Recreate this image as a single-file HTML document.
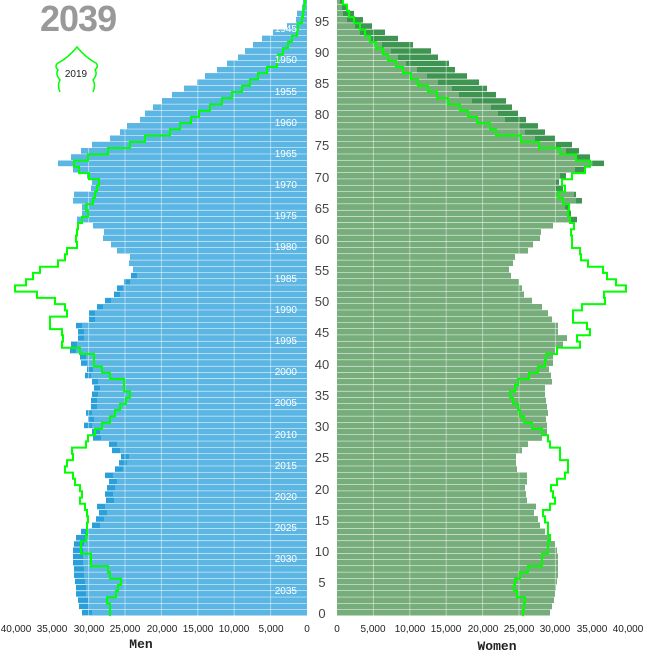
<!DOCTYPE html>
<html><head><meta charset="utf-8"><style>
html,body{margin:0;padding:0;background:#fff;}
svg{display:block;font-family:"Liberation Sans",sans-serif;}
</style></head><body>
<svg id="s" width="645" height="653" viewBox="0 0 645 653" xmlns="http://www.w3.org/2000/svg">
<g id="bars"></g>
<g id="grid"></g>
<g id="lines"></g>
<g fill="#fff" font-size="10" text-anchor="end">
<text x="297" y="32">1945</text><text x="297" y="63">1950</text><text x="297" y="95">1955</text><text x="297" y="126">1960</text><text x="297" y="157">1965</text><text x="297" y="188">1970</text><text x="297" y="219">1975</text><text x="297" y="250">1980</text><text x="297" y="282">1985</text><text x="297" y="313">1990</text><text x="297" y="344">1995</text><text x="297" y="375">2000</text><text x="297" y="406">2005</text><text x="297" y="438">2010</text><text x="297" y="469">2015</text><text x="297" y="500">2020</text><text x="297" y="531">2025</text><text x="297" y="562">2030</text><text x="297" y="594">2035</text>
</g>
<g fill="#444" font-size="13" text-anchor="middle">
<text x="322" y="618">0</text><text x="322" y="587">5</text><text x="322" y="556">10</text><text x="322" y="525">15</text><text x="322" y="494">20</text><text x="322" y="462">25</text><text x="322" y="431">30</text><text x="322" y="400">35</text><text x="322" y="369">40</text><text x="322" y="337">45</text><text x="322" y="306">50</text><text x="322" y="275">55</text><text x="322" y="244">60</text><text x="322" y="213">65</text><text x="322" y="182">70</text><text x="322" y="150">75</text><text x="322" y="119">80</text><text x="322" y="88">85</text><text x="322" y="57">90</text><text x="322" y="26">95</text>
</g>
<g fill="#222" font-size="10" text-anchor="middle">
<text x="16" y="632">40,000</text><text x="52" y="632">35,000</text><text x="89" y="632">30,000</text><text x="125" y="632">25,000</text><text x="162" y="632">20,000</text><text x="198" y="632">15,000</text><text x="234" y="632">10,000</text><text x="271" y="632">5,000</text><text x="307" y="632">0</text>
<text x="337" y="632">0</text><text x="373" y="632">5,000</text><text x="410" y="632">10,000</text><text x="446" y="632">15,000</text><text x="483" y="632">20,000</text><text x="519" y="632">25,000</text><text x="555" y="632">30,000</text><text x="592" y="632">35,000</text><text x="628" y="632">40,000</text>
</g>
<text x="141" y="648" font-family="Liberation Mono,monospace" font-weight="bold" font-size="13" text-anchor="middle" fill="#222">Men</text>
<text x="497" y="650" font-family="Liberation Mono,monospace" font-weight="bold" font-size="13" text-anchor="middle" fill="#222">Women</text>
<text x="40" y="31" font-size="36" font-weight="bold" fill="#999" letter-spacing="-1">2039</text>
<path d="M60,92 Q57,85 60,80 Q55,74 58,70 Q54,66 58,63 Q68,58 77,47 Q86,58 96,63 Q99,66 95,70 Q98,74 93,80 Q96,85 93,92" fill="none" stroke="#00ff00" stroke-width="1.5"/>
<text x="76" y="77" font-size="10" text-anchor="middle" fill="#222">2019</text>
</svg>
<script>
var md=[82,79,78,76,76,75,74,74,73,73,73,74,76,81,92,96,99,97,106,105,107,109,105,115,119,121,112,109,93,92,84,88,86,91,91,92,94,92,85,87,81,80,70,71,78,78,76,89,89,97,105,114,117,124,131,133,129,130,117,111,103,104,93,77,82,82,73,74,91,92,87,73,58,71,81,92,110,120,127,140,145,153,162,172,184,197,205,217,227,238,245,253,262,273,287,296,297,302,303,305];
var mg=[110,110,107,116,118,121,110,108,91,91,81,81,86,87,87,88,87,85,80,82,80,75,73,65,67,73,72,86,88,95,102,110,115,120,126,130,124,124,110,102,94,94,80,62,63,62,50,50,67,65,55,37,15,26,33,40,58,65,67,77,76,77,78,82,88,86,93,95,97,99,89,79,74,88,108,130,145,170,180,191,199,210,222,232,242,250,258,267,277,278,283,288,292,297,298,302,303,304,305,306];
var wl=[550,552,554,555,556,557,558,558,558,558,557,555,550,545,540,538,534,536,527,526,525,527,527,517,516,516,522,528,542,547,547,546,548,547,546,545,545,552,551,549,553,553,555,563,567,558,558,552,548,542,532,524,522,519,511,509,513,515,528,533,540,541,
553,570,567,565,576,574,556,555,560,575,590,577,566,556,535,525,519,505,498,491,472,459,452,438,427,417,406,398,391,382,370,360,355,347,343,342,340,338];
var wd=wl.slice();
var wdo={63:577,64:571,65:569,66:582,67:576,68:563,69:559,70:566,71:585,72:604,73:590,74:579,75:572,76:555,77:545,78:538,79:526,80:518,81:512,82:506,83:496,84:487,85:479,86:467,87:455,88:449,89:438,90:431,91:413,92:398,93:385,94:372,95:363,96:354,97:348,98:344,99:341};
for(var k in wdo)wd[k]=wdo[k];
var wg=[523,524,525,517,514,515,520,528,542,542,548,548,550,548,548,545,543,550,555,553,551,557,565,568,568,560,560,550,548,542,532,524,520,518,513,510,515,518,529,538,545,546,557,580,577,590,587,573,573,582,605,604,626,616,607,603,588,581,580,572,572,571,574,570,568,569,563,558,565,562,572,585,590,576,560,539,521,496,490,477,468,460,448,437,428,418,411,403,396,388,383,376,370,365,360,354,349,347,343,340];
var NS="http://www.w3.org/2000/svg",h="";
function yc(a){return 613-a*6.24;}
for(var a=0;a<100;a++){
 var y=(yc(a)-3.12).toFixed(2),hh=5.5;
 var d=md[a],w=a<13?10:(a<31?8:(a<55?6:0)),l=Math.min(d+w,307);
 h+='<rect x="'+d+'" y="'+y+'" width="'+(307-d)+'" height="'+hh+'" fill="#2b9fd9"/>';
 h+='<rect x="'+l+'" y="'+y+'" width="'+(307-l)+'" height="'+hh+'" fill="#5cb6e4"/>';
 h+='<rect x="337" y="'+y+'" width="'+(wd[a]-337)+'" height="'+hh+'" fill="#3e9450"/>';
 h+='<rect x="337" y="'+y+'" width="'+(wl[a]-337)+'" height="'+hh+'" fill="#77ad7b"/>';
}
document.getElementById("bars").innerHTML=h;
var g="";
for(var k=1;k<8;k++){var x1=307-k*36.4,x2=337+k*36.4;
 g+='<line x1="'+x1+'" y1="0" x2="'+x1+'" y2="616" stroke="rgba(255,255,255,0.45)" stroke-width="1"/>';
 g+='<line x1="'+x2+'" y1="0" x2="'+x2+'" y2="616" stroke="rgba(255,255,255,0.45)" stroke-width="1"/>';}
document.getElementById("grid").innerHTML=g;
function path(arr){var p="M"+arr[0]+","+(yc(0)+3.12).toFixed(1);
 for(var a=0;a<100;a++){var yt=(yc(a)-3.12).toFixed(1);p+=" L"+arr[a]+","+yt;if(a<99)p+=" L"+arr[a+1]+","+yt;}
 return '<path d="'+p+'" fill="none" stroke="#00ff00" stroke-width="2"/>';}
document.getElementById("lines").innerHTML=path(mg)+path(wg);
</script>
</body></html>
